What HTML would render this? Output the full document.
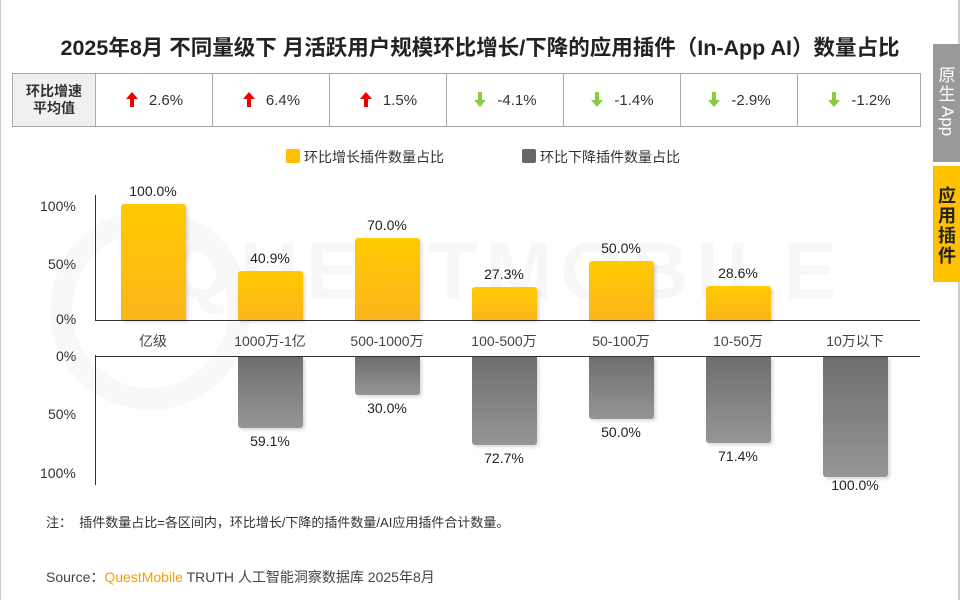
<!DOCTYPE html>
<html><head><meta charset="utf-8"><style>
body{margin:0;width:960px;height:600px;background:#fff;font-family:"Liberation Sans","Noto Sans CJK SC",sans-serif;position:relative;overflow:hidden;color:#222}
.a{position:absolute}
table{border-collapse:collapse;position:absolute;left:12px;top:73px}
td{border:1px solid #a8a8b0;height:52px;text-align:center;font-size:15px;color:#333;padding:0}
td svg{vertical-align:-3px;margin-right:10px}
.yb{position:absolute;width:65px;background:linear-gradient(#ffca00,#fdb51c);border-radius:3px 3px 0 0;box-shadow:2px 2px 3px rgba(0,0,0,0.15)}
.gb{position:absolute;width:65px;background:linear-gradient(#6e6e6e,#969696);border-radius:0 0 3px 3px;box-shadow:2px 2px 3px rgba(0,0,0,0.15)}
.v{position:absolute;width:100px;text-align:center;font-size:14px;color:#222}
.c{position:absolute;width:100px;text-align:center;font-size:14px;color:#444}
.t{position:absolute;font-size:14px;color:#333}
</style></head><body>
<div class="a" style="left:0;top:0;width:1px;height:600px;background:#ccc"></div>
<div class="a" style="left:0;width:960px;text-align:center;top:31px;font-size:21.5px;font-weight:bold;color:#222">2025年8月 不同量级下 月活跃用户规模环比增长/下降的应用插件（In-App AI）数量占比</div>
<div class="a" style="left:50px;top:210px;width:200px;height:200px;border:22px solid #f8f8f8;border-radius:50%;box-sizing:border-box"></div>
<div class="a" style="left:170px;top:225px;font-size:80px;font-weight:bold;color:#f7f7f7;letter-spacing:8px">QUESTMOBILE</div>
<table><tr>
<td style="width:82px;background:#f0f0f0;font-weight:bold;font-size:14px;line-height:17px">环比增速<br>平均值</td>
<td style="width:116px"><svg width="14" height="17"><path d="M7 1L1 8H5V16H9V8H13Z" fill="#e00"/></svg>2.6%</td>
<td style="width:116px"><svg width="14" height="17"><path d="M7 1L1 8H5V16H9V8H13Z" fill="#e00"/></svg>6.4%</td>
<td style="width:116px"><svg width="14" height="17"><path d="M7 1L1 8H5V16H9V8H13Z" fill="#e00"/></svg>1.5%</td>
<td style="width:116px"><svg width="14" height="17"><path d="M7 16L1 9H5V1H9V9H13Z" fill="#8c4"/></svg>-4.1%</td>
<td style="width:116px"><svg width="14" height="17"><path d="M7 16L1 9H5V1H9V9H13Z" fill="#8c4"/></svg>-1.4%</td>
<td style="width:116px"><svg width="14" height="17"><path d="M7 16L1 9H5V1H9V9H13Z" fill="#8c4"/></svg>-2.9%</td>
<td style="width:122px"><svg width="14" height="17"><path d="M7 16L1 9H5V1H9V9H13Z" fill="#8c4"/></svg>-1.2%</td>
</tr></table>
<div class="a" style="left:286px;top:149px;width:14px;height:14px;background:#ffc000;border-radius:2px"></div>
<div class="t" style="left:304px;top:147px">环比增长插件数量占比</div>
<div class="a" style="left:522px;top:149px;width:14px;height:14px;background:#666;border-radius:2px"></div>
<div class="t" style="left:540px;top:147px">环比下降插件数量占比</div>
<div class="a" style="left:95px;top:195px;width:1px;height:126px;background:#333"></div>
<div class="a" style="left:95px;top:320px;width:825px;height:1px;background:#333"></div>
<div class="a" style="left:95px;top:356px;width:825px;height:1px;background:#333"></div>
<div class="a" style="left:95px;top:355px;width:1px;height:130px;background:#333"></div>
<div class="t" style="left:40px;top:198px">100%</div>
<div class="t" style="left:48px;top:256px">50%</div>
<div class="t" style="left:56px;top:311px">0%</div>
<div class="t" style="left:56px;top:348px">0%</div>
<div class="t" style="left:48px;top:406px">50%</div>
<div class="t" style="left:40px;top:465px">100%</div>
<div class="yb" style="left:121px;top:204px;height:116px"></div>
<div class="yb" style="left:238px;top:271px;height:49px"></div>
<div class="yb" style="left:355px;top:238px;height:82px"></div>
<div class="yb" style="left:472px;top:287px;height:33px"></div>
<div class="yb" style="left:589px;top:261px;height:59px"></div>
<div class="yb" style="left:706px;top:286px;height:34px"></div>
<div class="v" style="left:103px;top:183px">100.0%</div>
<div class="v" style="left:220px;top:250px">40.9%</div>
<div class="v" style="left:337px;top:217px">70.0%</div>
<div class="v" style="left:454px;top:266px">27.3%</div>
<div class="v" style="left:571px;top:240px">50.0%</div>
<div class="v" style="left:688px;top:265px">28.6%</div>
<div class="gb" style="left:238px;top:357px;height:71px"></div>
<div class="gb" style="left:355px;top:357px;height:38px"></div>
<div class="gb" style="left:472px;top:357px;height:88px"></div>
<div class="gb" style="left:589px;top:357px;height:62px"></div>
<div class="gb" style="left:706px;top:357px;height:86px"></div>
<div class="gb" style="left:823px;top:357px;height:120px"></div>
<div class="v" style="left:220px;top:433px">59.1%</div>
<div class="v" style="left:337px;top:400px">30.0%</div>
<div class="v" style="left:454px;top:450px">72.7%</div>
<div class="v" style="left:571px;top:424px">50.0%</div>
<div class="v" style="left:688px;top:448px">71.4%</div>
<div class="v" style="left:805px;top:477px">100.0%</div>
<div class="c" style="left:103px;top:331px">亿级</div>
<div class="c" style="left:220px;top:331px">1000万-1亿</div>
<div class="c" style="left:337px;top:331px">500-1000万</div>
<div class="c" style="left:454px;top:331px">100-500万</div>
<div class="c" style="left:571px;top:331px">50-100万</div>
<div class="c" style="left:688px;top:331px">10-50万</div>
<div class="c" style="left:805px;top:331px">10万以下</div>
<div class="t" style="left:46px;top:512px;font-size:13px">注：&nbsp;&nbsp;插件数量占比=各区间内，环比增长/下降的插件数量/AI应用插件合计数量。</div>
<div class="t" style="left:46px;top:567px;font-size:14px;color:#444">Source：<span style="color:#f5a000">QuestMobile</span> TRUTH 人工智能洞察数据库 2025年8月</div>
<div class="a" style="left:933px;top:44px;width:27px;height:118px;background:#999"></div>
<div class="a" style="left:936px;top:66px;width:22px;font-size:17px;line-height:19px;color:#fff;text-align:center">原<br>生</div>
<div class="a" style="left:936px;top:106px;width:22px;height:40px;font-size:17px;color:#fff;writing-mode:vertical-rl;line-height:22px">App</div>
<div class="a" style="left:933px;top:166px;width:27px;height:116px;background:#ffc000"></div>
<div class="a" style="left:936px;top:186px;width:22px;font-size:18px;line-height:20px;color:#222;text-align:center;font-weight:bold">应<br>用<br>插<br>件</div>
<div class="a" style="left:958px;top:0;width:2px;height:44px;background:#ccc"></div>
<div class="a" style="left:958px;top:282px;width:2px;height:318px;background:#ccc"></div>
</body></html>
